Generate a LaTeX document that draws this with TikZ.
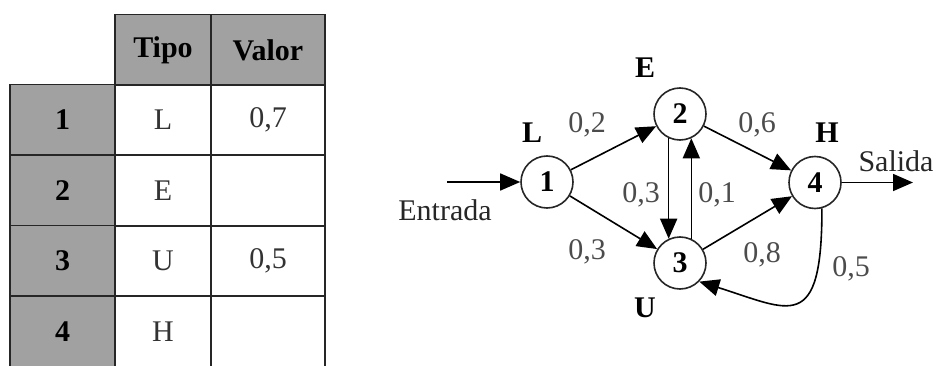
\documentclass[tikz,border=0pt]{standalone}
\usepackage{fontspec}
\setmainfont{Liberation Serif}
\usepackage{tikz}
\usetikzlibrary{arrows.meta}
\newcommand{\figfont}{\fontsize{30}{36}\selectfont}
\tikzstyle{cell}=[rectangle,
draw=black!85,
line width=1.6pt,
minimum height=71pt,
inner sep=0pt,
font=\figfont,
text=black!80]
\tikzstyle{head}=[cell,
fill=black!37,
font=\figfont\bfseries,
text=black]
\tikzstyle{state}=[circle,
draw=black!85,
line width=1.6pt,
minimum size=52pt,
inner sep=0pt,
font=\figfont\bfseries]
\tikzstyle{tag}=[font=\figfont\bfseries]
\tikzstyle{weight}=[font=\figfont,
text=black!70]
\tikzstyle{io}=[font=\figfont,
text=black!85]

\begin{document}
\begin{tikzpicture}[x=1pt,y=1pt,>={Triangle[length=20pt,width=17pt]},line width=1.6pt]
	\useasboundingbox (0,0) rectangle (940,365);
	\clip (0,0) rectangle (940,365);

	% Table: header row and row labels are shaded
	\node (tipo)  [head, minimum width=96pt]  at (163,315) {Tipo};
	\node (valor) [head, minimum width=114pt] at (268,315) {Valor};
	\node (r1) [head, minimum width=105pt] at (62.5,245) {1};
	\node (r2) [head, minimum width=105pt] at (62.5,174.5) {2};
	\node (r3) [head, minimum width=105pt] at (62.5,104) {3};
	\node (r4) [head, minimum width=105pt] at (62.5,33.5) {4};
	\node (t1) [cell, minimum width=96pt] at (163,245) {L};
	\node (t2) [cell, minimum width=96pt] at (163,174.5) {E};
	\node (t3) [cell, minimum width=96pt] at (163,104) {U};
	\node (t4) [cell, minimum width=96pt] at (163,33.5) {H};
	\node (v1) [cell, minimum width=114pt] at (268,245) {0,7};
	\node (v2) [cell, minimum width=114pt] at (268,174.5) {};
	\node (v3) [cell, minimum width=114pt] at (268,104) {0,5};
	\node (v4) [cell, minimum width=114pt] at (268,33.5) {};

	% Graph: the four states
	\node (n1) [state] at (547,183) {1};
	\node (n2) [state] at (680,251) {2};
	\node (n3) [state] at (680,102) {3};
	\node (n4) [state] at (815,182.5) {4};

	% types written next to the states
	\node (tagL) [tag] at (532,232) {L};
	\node (tagE) [tag] at (645,297) {E};
	\node (tagH) [tag] at (827,232) {H};
	\node (tagU) [tag] at (645,57) {U};

	% input and output
	\coordinate (in_pt) at (447,183);
	\coordinate (out_pt) at (913,182.5);
	\node (entrada) [io] at (445,155) {Entrada};
	\node (salida) [io] at (896,204) {Salida};

	% The transitions
	\path[->]
	(in_pt) edge (n1)
	(n1) edge (n2)
	(n1) edge (n3)
	(n2.245) edge (n3.115)
	(n3.65) edge (n2.295)
	(n2) edge (n4)
	(n3) edge (n4)
	(n4) edge (out_pt)
	;
	\draw[->] (n4.285) .. controls (822,30) and (790,55) .. (n3.316);

	% weights of the transitions
	\node (w12) [weight] at (587,240) {0,2};
	\node (w13) [weight] at (587,113) {0,3};
	\node (w23) [weight] at (641,170) {0,3};
	\node (w32) [weight] at (717,170) {0,1};
	\node (w24) [weight] at (757,240) {0,6};
	\node (w34) [weight] at (762,110) {0,8};
	\node (w43) [weight] at (851,96) {0,5};
\end{tikzpicture}
\end{document}
